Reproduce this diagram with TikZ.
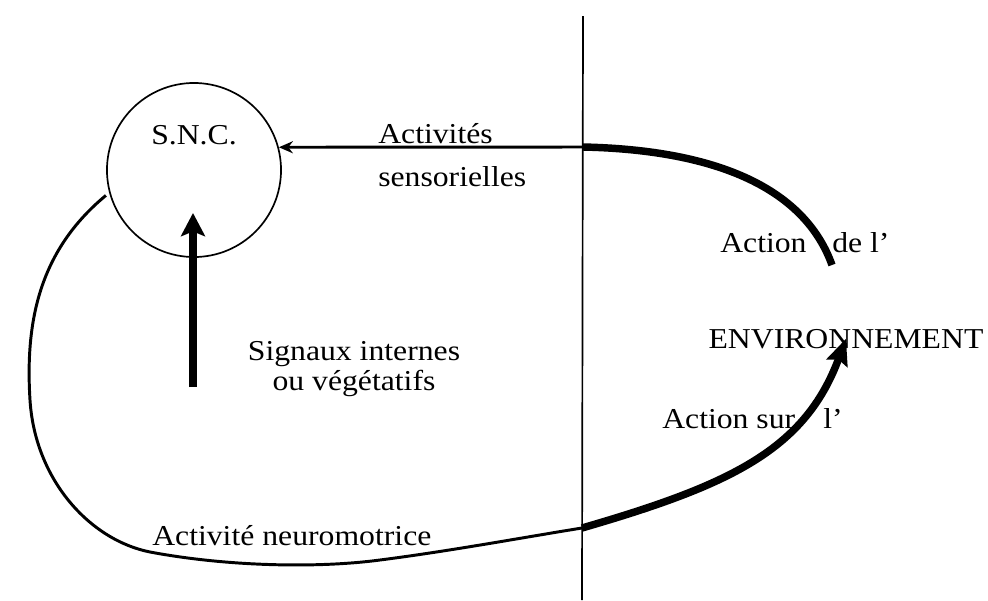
\documentclass[tikz,border=0pt]{standalone}
\usepackage{fontspec}
\setmainfont{Liberation Serif}[FakeStretch=1.1]
\usepackage{tikz}
\usetikzlibrary{arrows.meta, positioning}
\tikzstyle{txt}=[font=\fontsize{20.5pt}{23pt}\selectfont, inner sep=0pt]
\tikzstyle{organ}=[circle, draw, line width=1.2pt, minimum size=4.35cm, inner sep=0pt]
\tikzstyle{light}=[line width=2.1pt]
\tikzstyle{heavy}=[line width=5.3pt]

\begin{document}
\begin{tikzpicture}[x=0.025cm, y=-0.025cm, >={Stealth[length=6.5mm, width=5.5mm, inset=1mm]}]
      \useasboundingbox (0,0) rectangle (988,600);

      \coordinate (top) at (583,16);
      \coordinate (bot) at (582,600);
      \draw[line width=1.2pt] (top) -- (bot);

      \node[organ] (snc) at (194,170) {};
      \node[txt, anchor=base] (snclbl) at ([yshift=0.625cm]snc.center) {S.N.C.};

      \node[txt, anchor=base west] (act)  at (378,143) {Activités};
      \node[txt, anchor=base west] (sens) at ([yshift=-1.075cm]act.base west) {sensorielles};

      \node[txt, anchor=base] (sig) at (354,360) {Signaux internes};
      \node[txt, anchor=base] (veg) at ([yshift=-0.75cm]sig.base) {ou végétatifs};

      \node[txt, anchor=base west] (actde) at (720,252) {Action};
      \node[txt, anchor=base west] (de)    at (832,252) {de l’};
      \node[txt, anchor=base] (env) at (846,348) {ENVIRONNEMENT};
      \node[txt, anchor=base west] (actsur) at (662,428) {Action sur};
      \node[txt, anchor=base west] (sur)    at (823,428) {l’};
      \node[txt, anchor=base west] (neuro)  at (152,545) {Activité neuromotrice};

      % action de l'environnement
      \coordinate (sensEnd)   at (832,265);
      \coordinate (sensCross) at (583,147);
      \draw[heavy] (sensEnd) .. controls (805,190) and (720,150) .. (sensCross);
      \draw[light, -{Stealth[length=3.5mm, width=3mm]}] (sensCross) -- (snc.15);

      % signaux internes
      \coordinate (sigBot) at (193,387);
      \coordinate (sigTop) at (193,213);
      \draw[heavy, -{Stealth[length=5.8mm, width=6mm, inset=1.2mm]}] (sigBot) -- (sigTop);

      % action sur l'environnement
      \coordinate (nmCross) at (582,528);
      \draw[light, shorten <=3pt] (snc.195) .. controls (40,250) and (25,320) .. (30,400)
        .. controls (35,480) and (90,540) .. (150,552)
        .. controls (230,567) and (320,568) .. (380,560)
        .. controls (450,551) and (520,538) .. (nmCross);
      \draw[heavy, ->] (nmCross) .. controls (730,485) and (805,450) .. (env.center);
\end{tikzpicture}
\end{document}
